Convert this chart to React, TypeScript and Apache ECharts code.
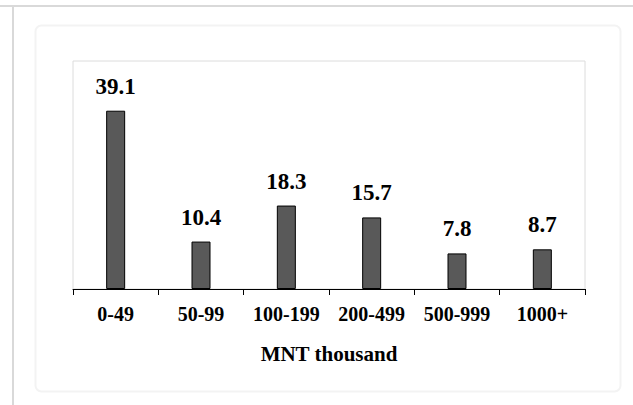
import React, { useEffect, useRef } from "react";
import * as echarts from "echarts";

const categories = ["0-49", "50-99", "100-199", "200-499", "500-999", "1000+"];
const values = [39.1, 10.4, 18.3, 15.7, 7.8, 8.7];
const axisName = "MNT thousand";

export default function App() {
  const ref = useRef<HTMLDivElement>(null);
  useEffect(() => {
    const chart = echarts.init(ref.current!, null, { renderer: "svg" });
    const serif = "'Liberation Serif', 'Times New Roman', serif";
    chart.setOption({
      animation: false,
      backgroundColor: "#ffffff",
      graphic: [
        { type: "line", shape: { x1: 0, y1: 6, x2: 633, y2: 6 }, style: { stroke: "#d9d9d9", lineWidth: 2 } },
        { type: "line", shape: { x1: 13, y1: 6, x2: 13, y2: 405 }, style: { stroke: "#d9d9d9", lineWidth: 2 } },
        {
          type: "rect",
          shape: { x: 35.5, y: 25.5, width: 585, height: 366, r: 6 },
          style: { fill: "#ffffff", stroke: "#f3f3f3", lineWidth: 2 },
          z: -10,
        },
        {
          type: "rect",
          shape: { x: 73, y: 61, width: 512, height: 228 },
          style: { fill: "none", stroke: "#dcdcdc", lineWidth: 1 },
          z: -5,
        },
      ],
      grid: { left: 73, right: 48, top: 61, bottom: 116, containLabel: false },
      xAxis: {
        type: "category",
        data: categories,
        boundaryGap: true,
        axisLine: { lineStyle: { color: "#000", width: 1 } },
        axisTick: { show: true, length: 6, inside: false, lineStyle: { color: "#000" } },
        axisLabel: {
          color: "#000",
          fontFamily: serif,
          fontWeight: "bold",
          fontSize: 20,
          margin: 15,
          interval: 0,
        },
        name: axisName,
        nameLocation: "middle",
        nameGap: 54,
        nameTextStyle: { color: "#000", fontFamily: serif, fontWeight: "bold", fontSize: 21 },
      },
      yAxis: {
        type: "value",
        min: 0,
        max: 50,
        show: false,
        splitLine: { show: false },
      },
      series: [
        {
          type: "bar",
          data: values,
          barWidth: 19,
          itemStyle: { color: "#595959", borderColor: "#000", borderWidth: 1 },
          label: {
            show: true,
            position: "top",
            distance: 13,
            color: "#000",
            fontFamily: serif,
            fontWeight: "bold",
            fontSize: 23,
            formatter: (p: any) => p.value.toFixed(1),
          },
        },
      ],
    });
    return () => chart.dispose();
  }, []);
  return <div ref={ref} style={{ position: "fixed", left: 0, top: 0, width: 633, height: 405 }} />;
}
